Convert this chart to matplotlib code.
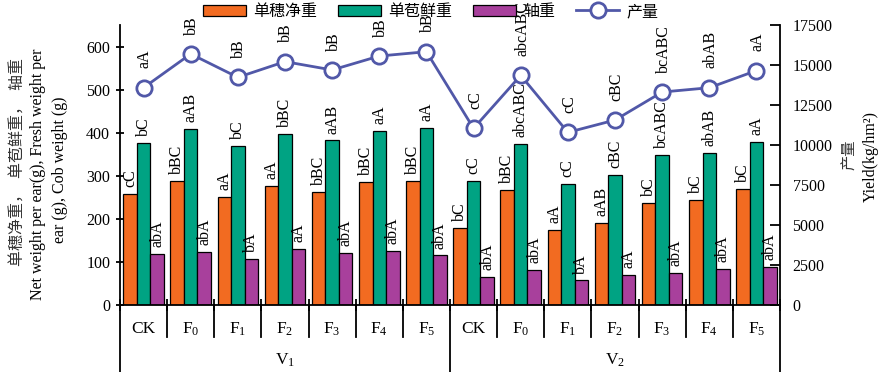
import matplotlib
matplotlib.use("Agg")
import matplotlib.pyplot as plt
import matplotlib.transforms as mtransforms
from matplotlib.patches import Patch
from matplotlib.lines import Line2D
import numpy as np

plt.rcParams['font.family'] = ['Liberation Serif', 'Noto Sans CJK SC']
plt.rcParams['mathtext.fontset'] = 'custom'
plt.rcParams['mathtext.rm'] = 'Liberation Serif'
plt.rcParams['mathtext.it'] = 'Liberation Serif'
plt.rcParams['mathtext.default'] = 'regular'

# data
treatments = ['CK', 'F$_{0}$', 'F$_{1}$', 'F$_{2}$', 'F$_{3}$', 'F$_{4}$', 'F$_{5}$']
varieties = ['V$_{1}$', 'V$_{2}$']

net_weight = [257, 288, 250, 277, 262, 285, 289,
              178, 266, 174, 191, 236, 244, 270]
fresh_weight = [377, 408, 370, 397, 382, 405, 411,
                287, 374, 282, 301, 348, 354, 379]
cob_weight = [119, 123, 106, 130, 121, 125, 115,
              64, 82, 57, 69, 74, 84, 89]
yield_kg = [13580, 15690, 14230, 15210, 14690, 15560, 15830,
            11040, 14350, 10790, 11560, 13310, 13580, 14650]

net_labels = ['cC', 'bBC', 'aA', 'aA', 'bBC', 'bBC', 'bBC',
              'bC', 'bBC', 'aA', 'aAB', 'bC', 'bC', 'bC']
fresh_labels = ['bC', 'aAB', 'bC', 'bBC', 'aAB', 'aA', 'aA',
                'cC', 'abcABC', 'cC', 'cBC', 'bcABC', 'abAB', 'aA']
cob_labels = ['abA', 'abA', 'bA', 'aA', 'abA', 'abA', 'abA',
              'abA', 'abA', 'bA', 'aA', 'abA', 'abA', 'abA']
yield_labels = ['aA', 'bB', 'bB', 'bB', 'bB', 'bB', 'bB',
                'cC', 'abcABC', 'cC', 'cBC', 'bcABC', 'abAB', 'aA']

c_orange = '#F26B21'
c_green = '#00A383'
c_purple = '#A8409C'
c_line = '#5158A8'

fig = plt.figure(figsize=(8.86, 3.72), dpi=100)
ax = fig.add_axes([0.1354, 0.1801, 0.745, 0.7527])
ax2 = ax.twinx()

n = len(net_weight)
x = np.arange(n) + 0.5
w = 0.286
fs = 11.5

ax.bar(x - w, net_weight, w, color=c_orange, edgecolor='black', linewidth=0.9)
ax.bar(x, fresh_weight, w, color=c_green, edgecolor='black', linewidth=0.9)
ax.bar(x + w, cob_weight, w, color=c_purple, edgecolor='black', linewidth=0.9)

for i in range(n):
    for xx, v, lab in [(x[i] - w, net_weight[i], net_labels[i]),
                       (x[i], fresh_weight[i], fresh_labels[i]),
                       (x[i] + w, cob_weight[i], cob_labels[i])]:
        ax.annotate(lab, (xx, v), xytext=(0, 5), textcoords='offset points',
                    rotation=90, ha='center', va='bottom', fontsize=fs,
                    annotation_clip=False)

ax2.plot(x, yield_kg, color=c_line, linewidth=2, marker='o', markersize=11,
         markerfacecolor='white', markeredgecolor=c_line, markeredgewidth=2)
for i in range(n):
    ax2.annotate(yield_labels[i], (x[i], yield_kg[i]), xytext=(1, 14),
                 textcoords='offset points', rotation=90, ha='center',
                 va='bottom', fontsize=fs, annotation_clip=False)

ax.set_xlim(0, n)
ax.set_ylim(0, 650)
ax.set_yticks(range(0, 700, 100))
ax2.set_ylim(0, 17500)
ax2.set_yticks(range(0, 17501, 2500))

for a in (ax, ax2):
    a.spines['top'].set_visible(False)
    for s in a.spines.values():
        s.set_linewidth(1.3)
ax.spines['right'].set_visible(False)
ax2.spines['left'].set_visible(False)
ax2.spines['bottom'].set_visible(False)

ax.tick_params(axis='y', direction='inout', length=6, width=1.3, labelsize=fs, pad=4)
ax2.tick_params(axis='y', direction='in', length=7, width=1.3, labelsize=fs, pad=9)
ax.set_xticks(range(n + 1))
ax.tick_params(axis='x', direction='inout', length=8, width=1.3, labelbottom=False)

# category axis below
trans = mtransforms.blended_transform_factory(ax.transData, ax.transAxes)
for k in range(n + 1):
    if k % 7 == 0:
        ax.plot([k, k], [0, -0.245], color='black', lw=1.3, transform=trans, clip_on=False)
    else:
        ax.plot([k, k], [0, -0.115], color='black', lw=1.3, transform=trans, clip_on=False)
for i in range(n):
    ax.text(x[i], -0.085, treatments[i % 7], transform=trans, ha='center',
            va='center', fontsize=12.5)
for j, v in enumerate(varieties):
    ax.text(3.5 + 7 * j, -0.196, v, transform=trans, ha='center', va='center',
            fontsize=12.5)

# axis titles
fig.text(0.021, 0.565, '单穗净重，  单苞鲜重，  轴重', rotation=90, ha='center',
         va='center', fontsize=11.5, color='#333333')
fig.text(0.043, 0.532, 'Net weight per ear(g), Fresh weight per', rotation=90,
         ha='center', va='center', fontsize=fs)
fig.text(0.068, 0.543, 'ear (g), Cob weight (g)', rotation=90, ha='center',
         va='center', fontsize=fs)
fig.text(0.960, 0.585, '产量', rotation=90, ha='center', va='center',
         fontsize=11, color='#333333')
fig.text(0.983, 0.58, 'Yield(kg/hm²)', rotation=90, ha='center', va='center',
         fontsize=fs)

handles = [Patch(facecolor=c_orange, edgecolor='black', linewidth=0.9),
           Patch(facecolor=c_green, edgecolor='black', linewidth=0.9),
           Patch(facecolor=c_purple, edgecolor='black', linewidth=0.9),
           Line2D([], [], color=c_line, lw=2, marker='o', markersize=11,
                  markerfacecolor='white', markeredgewidth=2)]
fig.legend(handles, ['单穗净重', '单苞鲜重', '轴重', '产量'], loc='center',
           bbox_to_anchor=(0.486, 0.968), ncol=4, frameon=False, fontsize=11.5,
           handlelength=2.7, handleheight=0.65, handletextpad=0.45,
           columnspacing=1.3, borderpad=0)

fig.savefig('out.png', dpi=100)
